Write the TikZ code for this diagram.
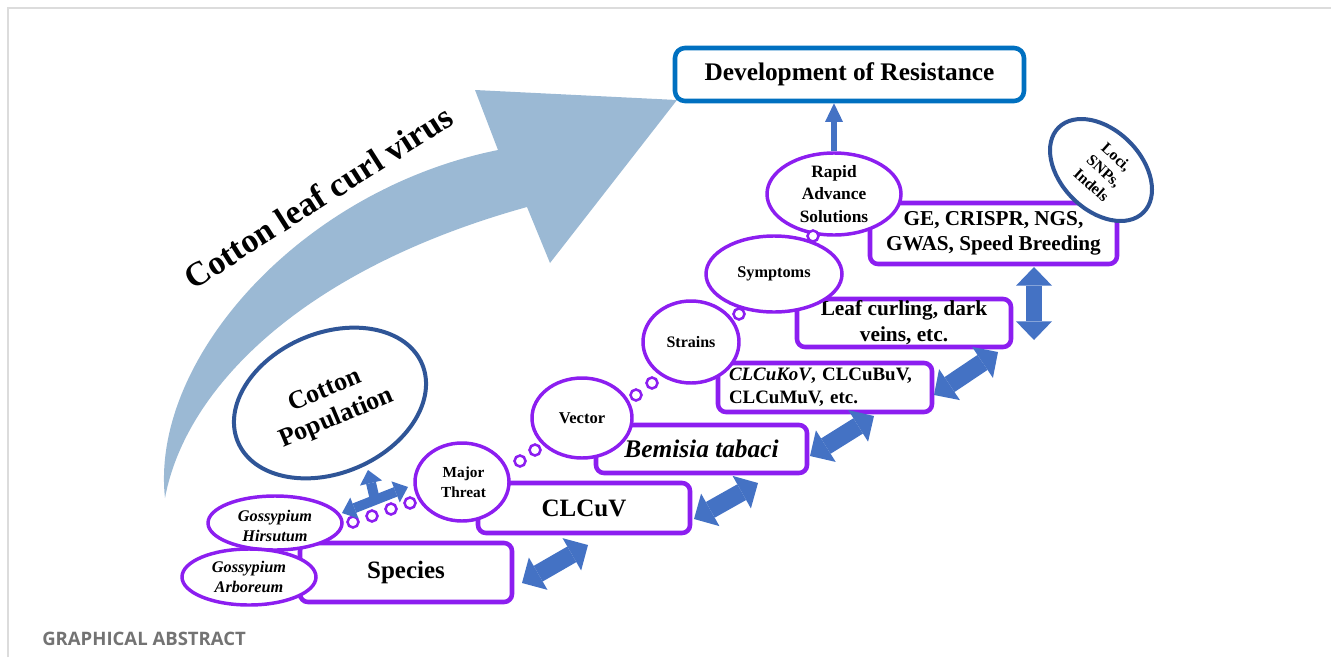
\documentclass[tikz,border=0pt]{standalone}
\usepackage{fontspec}
\setmainfont{Liberation Serif}
\newfontfamily\gafont{Open Sans}
\usetikzlibrary{shapes.geometric,arrows.meta}
\definecolor{vio}{RGB}{140,30,240}
\definecolor{navy}{RGB}{47,85,151}
\definecolor{devblue}{RGB}{0,112,192}
\definecolor{abl}{RGB}{68,114,196}
\definecolor{bigarrow}{RGB}{155,185,212}
\definecolor{framegray}{RGB}{220,220,220}
\definecolor{gatext}{RGB}{115,115,115}
\tikzset{
  vbox/.style={draw=vio, line width=3.4pt, rounded corners=6pt, fill=white, inner sep=0pt, align=center},
  vell/.style={ellipse, draw=vio, line width=2.6pt, fill=white, inner sep=0pt},
  nell/.style={ellipse, draw=navy, line width=3pt, fill=white, inner sep=0pt},
  etext/.style={inner sep=0pt, align=center, font=\bfseries},
  bub/.style={circle, draw=vio, line width=1.9pt, fill=white, inner sep=0pt, minimum size=8.25pt},
  fat/.style={color=abl, line width=13.5pt, {Triangle[length=14pt,width=28pt,line width=0pt]}-{Triangle[length=14pt,width=28pt,line width=0pt]}},
  tfat/.style={color=abl, line width=7.5pt, {Triangle[length=10pt,width=17pt,line width=0pt]}-{Triangle[length=10pt,width=17pt,line width=0pt]}},
  tup/.style={color=abl, line width=7.5pt, -{Triangle[length=10pt,width=17pt,line width=0pt]}},
  uparr/.style={color=abl, line width=4.5pt, -{Triangle[length=14pt,width=13.5pt,line width=0pt]}},
  bigtxt/.style={inner sep=0pt, font=\fontsize{25.5}{30}\selectfont\bfseries}
}
\begin{document}
\begin{tikzpicture}[x=0.75pt,y=-0.75pt]
\useasboundingbox (0,0) rectangle (1331,657);
% frame
\draw[framegray, line width=1.1pt] (8,657) -- (8,8) -- (1331,8);
\node[anchor=west, inner sep=0pt, text=gatext, font=\gafont\bfseries\fontsize{13.9}{16}\selectfont] (ga) at (42,639) {GRAPHICAL ABSTRACT};

% big curved arrow
\fill[bigarrow] (165,498) .. controls (150,360) and (300,190) .. (498,150) -- (475,90) -- (677,100) -- (550,263) -- (527,207) .. controls (300,270) and (185,390) .. (165,498) -- cycle;
\node[bigtxt, rotate=32.5] (virus) at (318,197) {Cotton leaf curl virus};

% boxes
\node[vbox, draw=devblue, rounded corners=7.5pt, minimum width=261.75pt, minimum height=39.75pt, font=\fontsize{19}{23}\selectfont\bfseries] (dev) at (849.5,74.5) {Development of Resistance};
\node[vbox, minimum width=185.25pt, minimum height=45.75pt, font=\fontsize{15.9}{18.75}\selectfont\bfseries] (ge) at (993.5,233.5) {GE, CRISPR, NGS,\\GWAS, Speed Breeding};
\node[vbox, minimum width=160.5pt, minimum height=36pt, font=\fontsize{16}{19.5}\selectfont\bfseries] (leaf) at (904,323) {Leaf curling, dark\\veins, etc.};
\node[vbox, minimum width=160.5pt, minimum height=36.75pt, text width=144pt, inner xsep=8.25pt, align=left, font=\fontsize{14.2}{17.25}\selectfont\bfseries] (strbox) at (825,387.5) {{\itshape CLCuKoV}, CLCuBuV,\\CLCuMuV, etc.};
\node[vbox, minimum width=158.25pt, minimum height=36pt, font=\fontsize{19}{23}\selectfont\bfseries\itshape] (bem) at (701.5,449) {Bemisia tabaci};
\node[vbox, minimum width=159pt, minimum height=37.5pt, font=\fontsize{18.75}{23}\selectfont\bfseries] (clcuv) at (584,508) {CLCuV};
\node[vbox, minimum width=159pt, minimum height=44.25pt, font=\fontsize{18.75}{23}\selectfont\bfseries] (species) at (406,572.5) {Species};

% ellipses
\node[vell, minimum width=100.5pt, minimum height=61.5pt] (rapid) at (834,194) {};
\node[etext, font=\fontsize{13}{16.9}\selectfont\bfseries] (rapidT) at (rapid) {Rapid\\Advance\\Solutions};
\node[vell, minimum width=102pt, minimum height=57pt] (sym) at (774,274) {};
\node[etext, font=\fontsize{12.2}{15}\selectfont\bfseries] (symT) at (sym) {Symptoms};
\node[vell, minimum width=72pt, minimum height=61.5pt] (strains) at (691,342) {};
\node[etext, font=\fontsize{12}{15}\selectfont\bfseries] (strainsT) at (strains) {Strains};
\node[vell, minimum width=75pt, minimum height=60pt] (vector) at (582,418) {};
\node[etext, font=\fontsize{12.4}{15}\selectfont\bfseries] (vectorT) at (vector) {Vector};
\node[vell, minimum width=70.5pt, minimum height=58.5pt] (major) at (462,482) {};
\node[etext, font=\fontsize{11.5}{15}\selectfont\bfseries] (majorT) at (463.5,482) {Major\\Threat};
\node[vell, minimum width=100.5pt, minimum height=40.5pt] (hirs) at (275,523) {};
\node[etext, font=\fontsize{12.2}{15}\selectfont\bfseries\itshape] (hirsT) at (275,526) {Gossypium\\Hirsutum};
\node[vell, minimum width=100.5pt, minimum height=42pt] (arbo) at (249,577) {};
\node[etext, font=\fontsize{12.2}{15}\selectfont\bfseries\itshape] (arboT) at (arbo) {Gossypium\\Arboreum};
\node[nell, minimum width=150pt, minimum height=105pt, rotate=23] (pop) at (330,403) {};
\node[etext, rotate=23, font=\fontsize{19.5}{22.5}\selectfont\bfseries] (popT) at (331,405) {Cotton\\Population};
\node[nell, minimum width=90pt, minimum height=60pt, rotate=-45] (loci) at (1101,170) {};
\node[etext, rotate=-42, font=\fontsize{11.8}{14}\selectfont\bfseries] (lociT) at (1104,171) {Loci,\\SNPs,\\Indels};

% thought bubbles
\node[bub] (b1) at (813,236) {};
\node[bub] (b2) at (739,314) {};
\node[bub] (b3) at (652,383) {};
\node[bub] (b4) at (636,395) {};
\node[bub] (b5) at (535,450) {};
\node[bub] (b6) at (520,461) {};
\node[bub] (b7) at (410,503) {};
\node[bub] (b8) at (391,509) {};
\node[bub] (b9) at (372,516) {};
\node[bub] (b10) at (353,522) {};

% arrows
\draw[uparr] (rapid.north) -- (rapid.north |- dev.south);
\coordinate (a1s) at (522,583); \coordinate (a1e) at (588,545);
\coordinate (a2s) at (694,519); \coordinate (a2e) at (758,483);
\coordinate (a3s) at (810,456); \coordinate (a3e) at (874,416);
\coordinate (a4s) at (934,395); \coordinate (a4e) at (998,352);
\coordinate (a5s) at (1034,340); \coordinate (a5e) at (1034,267);
\draw[fat] (a1s) -- (a1e);
\draw[fat] (a2s) -- (a2e);
\draw[fat] (a3s) -- (a3e);
\draw[fat] (a4s) -- (a4e);
\draw[fat, line width=11.5pt, {Triangle[length=14pt,width=27pt,line width=0pt]}-{Triangle[length=14pt,width=27pt,line width=0pt]}] (a5s) -- (a5e);
\coordinate (tL) at (342,513); \coordinate (tR) at (408,487);
\coordinate (tM) at (375,500); \coordinate (tU) at (368,470);
\draw[tfat] (tL) -- (tR);
\draw[tup] (tM) -- (tU);
\end{tikzpicture}
\end{document}
